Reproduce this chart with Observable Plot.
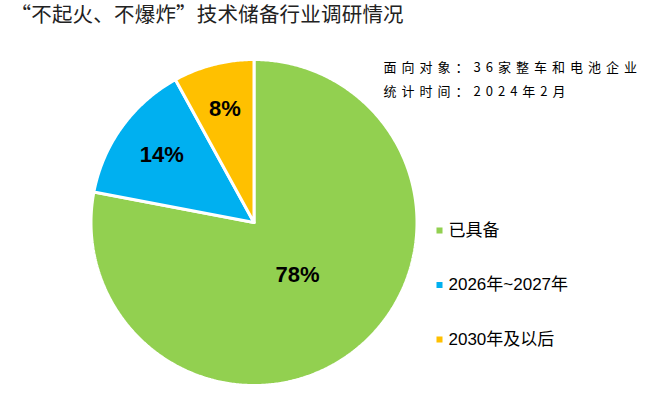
<!DOCTYPE html>
<html>
<head>
<meta charset="utf-8">
<script src="https://cdn.jsdelivr.net/npm/d3@7"></script>
<script src="https://cdn.jsdelivr.net/npm/@observablehq/plot@0.6"></script>
<style>
  body { margin: 0; background: #fff; }
</style>
</head>
<body>
<div id="chart"></div>
<script>
const title = "“不起火、不爆炸”技术储备行业调研情况";
const notes = ["面向对象：36家整车和电池企业", "统计时间：2024年2月"];
const categories = ["已具备", "2026年~2027年", "2030年及以后"];
const values = [78, 14, 8];
const colors = ["#92D050", "#00B0F0", "#FFC000"];
const labelRadius = [0.42, 0.70, 0.72];

// layout (pixels)
const W = 648, H = 397;
const cx = 253.5, cy = 222, R = 163;

const total = d3.sum(values);
let acc = 0;
const slices = values.map((v, i) => {
  const a0 = acc / total * 2 * Math.PI;
  acc += v;
  const a1 = acc / total * 2 * Math.PI;
  return {key: categories[i], value: v, a0, a1, i};
});

const pts = [];
for (const s of slices) {
  pts.push({key: s.key, x: cx, y: cy});
  const n = Math.max(2, Math.ceil((s.a1 - s.a0) / (Math.PI / 360)));
  for (let k = 0; k <= n; k++) {
    const a = s.a0 + (s.a1 - s.a0) * k / n;
    pts.push({key: s.key, x: cx + R * Math.sin(a), y: cy - R * Math.cos(a)});
  }
  pts.push({key: s.key, x: cx, y: cy});
}

const pieLabels = slices.map(s => {
  const a = (s.a0 + s.a1) / 2, r = R * labelRadius[s.i];
  return {text: s.value + "%", x: cx + r * Math.sin(a), y: cy - r * Math.cos(a)};
});

const legend = categories.map((c, i) => ({key: c, x: 439, y: 230 + i * 54.5}));

const cjk = "'Liberation Sans', 'Noto Sans CJK SC', sans-serif";

const plot = Plot.plot({
  width: W, height: H, margin: 0,
  x: {domain: [0, W], range: [0, W], axis: null},
  y: {domain: [0, H], range: [0, H], axis: null},
  color: {domain: categories, range: colors},
  style: {fontFamily: cjk, background: "#fff", overflow: "visible"},
  marks: [
    Plot.line(pts, {x: "x", y: "y", z: "key", fill: "key", stroke: "white", strokeWidth: 3, strokeLinejoin: "miter", curve: "linear"}),
    Plot.text(pieLabels, {x: "x", y: "y", text: "text", fontSize: 22, fontWeight: "bold", fill: "#000", fontFamily: "'Liberation Sans', Arial, sans-serif"}),
    Plot.dot(legend, {x: "x", y: "y", symbol: "square", fill: "key", r: 3.4, stroke: null}),
    Plot.text(legend, {x: d => d.x + 9, y: "y", text: "key", textAnchor: "start", fontSize: 17, fill: "#000"}),
    Plot.text([title], {x: 10, y: 15, text: d => d, textAnchor: "start", fontSize: 20.5, fill: "#222", fontFamily: "'Noto Sans CJK SC', sans-serif"}),
    Plot.text(notes, {x: 383, y: (d, i) => 67 + i * 24, text: d => d, textAnchor: "start", fontSize: 13, fill: "#000", fontFamily: "'Noto Sans CJK SC', sans-serif"})
  ]
});
plot.querySelectorAll("text").forEach(t => {
  const s = t.textContent;
  if (notes.includes(s)) t.setAttribute("letter-spacing", "5");
  if (s === title) t.setAttribute("letter-spacing", "0.2");
});
document.getElementById("chart").appendChild(plot);
</script>
</body>
</html>
